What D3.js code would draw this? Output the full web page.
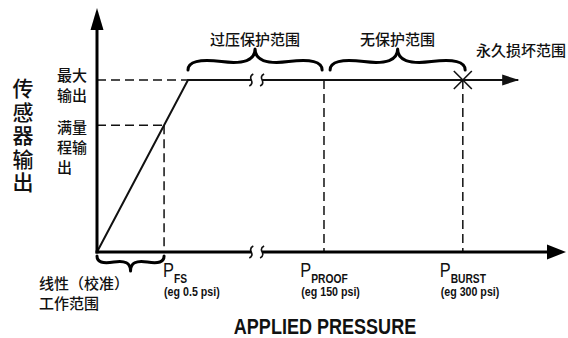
<!DOCTYPE html>
<html>
<head>
<meta charset="utf-8">
<script src="https://cdn.jsdelivr.net/npm/d3@7"></script>
<style>
  html, body { margin: 0; padding: 0; background: #fff; }
  svg { display: block; }
</style>
</head>
<body>
<div id="container"></div>
<script>
const width = 568, height = 338;

// --- Data (diagram units: pressure 0..100 along x, sensor output 0..1 where 1 = max output) ---
const pressureKeys = ["FS", "PROOF", "BURST"];
const pressureValues = [14.3, 48.4, 78.0];
const pressureNotes = ["(eg 0.5 psi)", "(eg 150 psi)", "(eg 300 psi)"];
const outputValues = [0.737, 1];
const outputLabels = [["满量", "程输", "出"], ["最大", "输出"]];
const curvePressure = [0, 19.4, 32.9];
const curveOutput = [0, 1, 1];
const plateauPressure = [35.2, 89.8];
const axisBreak = [32.9, 35.2];
const rangeStart = [0, 19.4, 49.7];
const rangeEnd = [14.3, 48.0, 78.5];
const rangeLabels = [["线性（校准）", "工作范围"], ["过压保护范围"], ["无保护范围"]];
const damageLabel = "永久损坏范围";
const yTitle = "传感器输出";
const xTitle = "APPLIED PRESSURE";

const cjk = "'Noto Sans CJK SC', 'Noto Sans', sans-serif";
const latin = "'Liberation Sans', Arial, sans-serif";
const narrow = 0.82;   // no narrow face installed: squeeze Arial-like text horizontally

const svg = d3.select("#container").append("svg")
  .attr("width", width).attr("height", height);

const x = d3.scaleLinear().domain([0, 100]).range([97, 566]);
const y = d3.scaleLinear().domain([0, 1]).range([252, 80]);
const yTop = y.invert(8);

// curly brace between two points, bulging to the left of the (x1,y1)->(x2,y2) direction
function brace(x1, y1, x2, y2, w, q) {
  let dx = x1 - x2, dy = y1 - y2;
  const len = Math.sqrt(dx * dx + dy * dy);
  dx /= len; dy /= len;
  const qx1 = x1 + q * w * dy, qy1 = y1 - q * w * dx;
  const qx2 = (x1 - .25 * len * dx) + (1 - q) * w * dy, qy2 = (y1 - .25 * len * dy) - (1 - q) * w * dx;
  const tx = (x1 - .5 * len * dx) + w * dy, ty = (y1 - .5 * len * dy) - w * dx;
  const qx3 = x2 + q * w * dy, qy3 = y2 - q * w * dx;
  const qx4 = (x1 - .75 * len * dx) + (1 - q) * w * dy, qy4 = (y1 - .75 * len * dy) - (1 - q) * w * dx;
  return `M${x1},${y1} Q${qx1},${qy1} ${qx2},${qy2} T${tx},${ty} M${x2},${y2} Q${qx3},${qy3} ${qx4},${qy4} T${tx},${ty}`;
}

function breakMark(cx, cy) {
  return `M${cx + 2},${cy - 6} Q${cx - 2},${cy - 4} ${cx},${cy} Q${cx + 2},${cy + 4} ${cx - 2},${cy + 6}`;
}

function narrowText(px, py) {
  return svg.append("g")
    .attr("transform", `translate(${px},${py}) scale(${narrow},1)`)
    .append("text")
    .attr("font-family", latin).attr("fill", "#111");
}

// --- Dashed reference lines ---
const dash = "9,5";
outputValues.forEach((v, i) => {
  const px = i === 0 ? pressureValues[0] : curvePressure[1];
  svg.append("line")
    .attr("x1", x(0)).attr("x2", x(px))
    .attr("y1", y(v)).attr("y2", y(v))
    .attr("stroke", "#111").attr("stroke-width", 1.5).attr("stroke-dasharray", dash);
});
pressureValues.forEach((p, i) => {
  const top = i === 0 ? outputValues[0] : 1;
  svg.append("line")
    .attr("x1", x(p)).attr("x2", x(p))
    .attr("y1", y(top)).attr("y2", y(0))
    .attr("stroke", "#111").attr("stroke-width", 1.5).attr("stroke-dasharray", dash);
});

// --- Sensor response curve ---
const line = d3.line().x(d => x(d[0])).y(d => y(d[1]));
svg.append("path")
  .datum(curvePressure.map((p, i) => [p, curveOutput[i]]))
  .attr("fill", "none").attr("stroke", "#111").attr("stroke-width", 2)
  .attr("d", line);
svg.append("path")
  .datum(plateauPressure.map(p => [p, 1]))
  .attr("fill", "none").attr("stroke", "#111").attr("stroke-width", 2)
  .attr("d", line);
// arrow at plateau end
const pe = x(plateauPressure[1]);
svg.append("path")
  .attr("d", `M${pe - 16},${y(1) - 5.5} L${pe + 1},${y(1)} L${pe - 16},${y(1) + 5.5} Z`)
  .attr("fill", "#111");

// break marks on plateau and axis
[y(1), y(0)].forEach(cy => {
  axisBreak.forEach(b => {
    svg.append("path").attr("d", breakMark(x(b), cy))
      .attr("fill", "none").attr("stroke", "#111").attr("stroke-width", 1.6);
  });
});

// burst marker
const bx = x(pressureValues[2]), by = y(1);
svg.append("path")
  .attr("d", `M${bx - 9},${by - 9} L${bx + 9},${by + 9} M${bx + 9},${by - 9} L${bx - 9},${by + 9}`)
  .attr("stroke", "#111").attr("stroke-width", 1.6);

// --- Axes ---
svg.append("line")
  .attr("x1", x(0)).attr("x2", x(0))
  .attr("y1", y(0) + 1.5).attr("y2", y(yTop) + 18)
  .attr("stroke", "#000").attr("stroke-width", 3);
svg.append("path")
  .attr("d", `M${x(0) - 6.5},${y(yTop) + 22} L${x(0)},${y(yTop)} L${x(0) + 6.5},${y(yTop) + 22} Z`)
  .attr("fill", "#000");

svg.append("line")
  .attr("x1", x(0) - 1.5).attr("x2", x(axisBreak[0]))
  .attr("y1", y(0)).attr("y2", y(0))
  .attr("stroke", "#000").attr("stroke-width", 3);
svg.append("line")
  .attr("x1", x(axisBreak[1])).attr("x2", x(100) - 16)
  .attr("y1", y(0)).attr("y2", y(0))
  .attr("stroke", "#000").attr("stroke-width", 3);
svg.append("path")
  .attr("d", `M${x(100) - 19},${y(0) - 7.5} L${x(100)},${y(0)} L${x(100) - 19},${y(0) + 7.5} Z`)
  .attr("fill", "#000");

// --- Range braces ---
rangeStart.forEach((s, i) => {
  const below = i === 0;
  const a = x(s), b = x(rangeEnd[i]);
  const yb = below ? y(0) + 4 : y(1) - 10;
  svg.append("path")
    .attr("d", below ? brace(a, yb, b, yb, 15, 0.6) : brace(b, yb, a, yb, 21, 0.6))
    .attr("fill", "none").attr("stroke", "#000").attr("stroke-width", 3)
    .attr("stroke-linecap", "round");
  const labels = rangeLabels[i];
  labels.forEach((t, j) => {
    svg.append("text")
      .attr("x", below ? 39 : (a + b) / 2)
      .attr("y", below ? 282 + j * 20 : 38)
      .attr("text-anchor", below ? "start" : "middle")
      .attr("dominant-baseline", "central")
      .attr("font-family", cjk).attr("font-size", 15).attr("font-weight", 500).attr("fill", "#111")
      .text(t);
  });
});

svg.append("text")
  .attr("x", 476).attr("y", 49)
  .attr("dominant-baseline", "central")
  .attr("font-family", cjk).attr("font-size", 15).attr("font-weight", 500).attr("fill", "#111")
  .text(damageLabel);

// --- Output level labels ---
const outTop = [126, 74];
outputLabels.forEach((rows, i) => {
  rows.forEach((t, j) => {
    svg.append("text")
      .attr("x", 57).attr("y", outTop[i] + j * 20)
      .attr("dominant-baseline", "central")
      .attr("font-family", cjk).attr("font-size", 15).attr("font-weight", 500).attr("fill", "#111")
      .text(t);
  });
});

// --- Pressure labels ---
pressureKeys.forEach((k, i) => {
  const px = x(pressureValues[i]);
  const lbl = narrowText(i === 0 ? px - 1 : px, 277)
    .attr("text-anchor", i === 0 ? "start" : "middle");
  lbl.append("tspan").attr("font-size", 20).text("P");
  lbl.append("tspan").attr("font-size", 12.5).attr("font-weight", "bold").attr("dy", 6).text(k);
  const left = (i === 0 ? px - 1 : px) + lbl.node().getBBox().x * narrow;
  narrowText(left + 1, 296)
    .attr("font-size", 13).attr("font-weight", "bold")
    .text(pressureNotes[i]);
});

// --- Axis titles ---
narrowText(325, 334)
  .attr("text-anchor", "middle")
  .attr("font-size", 22).attr("font-weight", "bold")
  .text(xTitle);

svg.append("text")
  .attr("x", 23).attr("y", 78)
  .attr("writing-mode", "vertical-rl")
  .attr("letter-spacing", 2.5)
  .attr("font-family", cjk).attr("font-size", 21).attr("font-weight", 500).attr("fill", "#111")
  .text(yTitle);
</script>
</body>
</html>
